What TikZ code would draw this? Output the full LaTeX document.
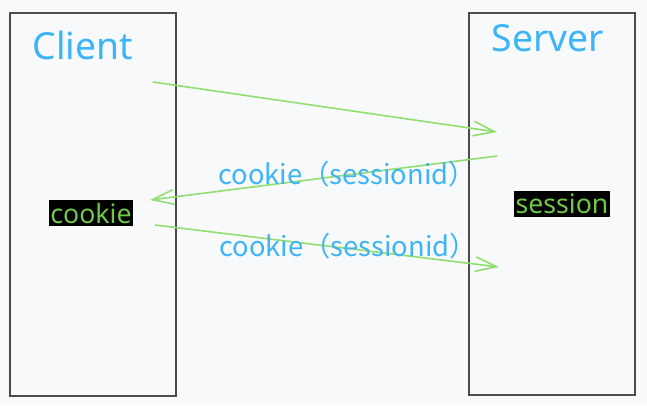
\documentclass[tikz,border=0pt]{standalone}
\usepackage{fontspec}
\setmainfont{Noto Sans}
\newfontfamily\cjk{Noto Sans CJK SC}
\usetikzlibrary{arrows.meta}
\definecolor{bgpage}{RGB}{248,249,251}
\definecolor{boxline}{RGB}{75,75,75}
\definecolor{titleblue}{RGB}{62,180,248}
\definecolor{msggreen}{RGB}{145,222,112}
\definecolor{tagGreen}{RGB}{112,200,72}
\begin{document}
\begin{tikzpicture}[x=0.75pt,y=-0.75pt]
		\tikzstyle{party}=[draw=boxline,line width=1.3pt,fill=bgpage]
		\tikzstyle{title}=[text=titleblue,font=\fontsize{28}{32}\selectfont]
		\tikzstyle{msg}=[draw=msggreen,line width=1.2pt,-{Straight Barb[length=16pt,width=11pt]}]
		\tikzstyle{msglabel}=[text=titleblue,font=\cjk\fontsize{20.5}{24}\selectfont,inner sep=0pt]
		\tikzstyle{tag}=[fill=black,text=tagGreen,font=\fontsize{20}{24}\selectfont,inner xsep=1pt,inner ysep=2pt]

		\fill[bgpage] (0,0) rectangle (647,405);
		\useasboundingbox (0,0) rectangle (647,405);

		\draw[party] (10,13) rectangle (176,396);
		\draw[party] (469,13) rectangle (635,395);

		\node[title] (client) at (83,45) {Client};
		\node[title] (server) at (548,38) {Server};

		\node[tag] (cookie) at (91,213) {cookie};
		\node[tag] (session) at (562,204) {session};

		\coordinate (c1) at (153,82);
		\coordinate (s1) at (497,132);
		\coordinate (s2) at (497,156);
		\coordinate (c2) at (150,200);
		\coordinate (c3) at (155,225);
		\coordinate (s3) at (499,267);

		\draw[msg] (c1) -- (s1);
		\draw[msg] (s2) -- (c2);
		\draw[msg] (c3) -- (s3);

		\node[msglabel] (reply) at (347,174) {cookie（sessionid）};
		\node[msglabel] (again) at (348,246) {cookie（sessionid）};
	\end{tikzpicture}
\end{document}
